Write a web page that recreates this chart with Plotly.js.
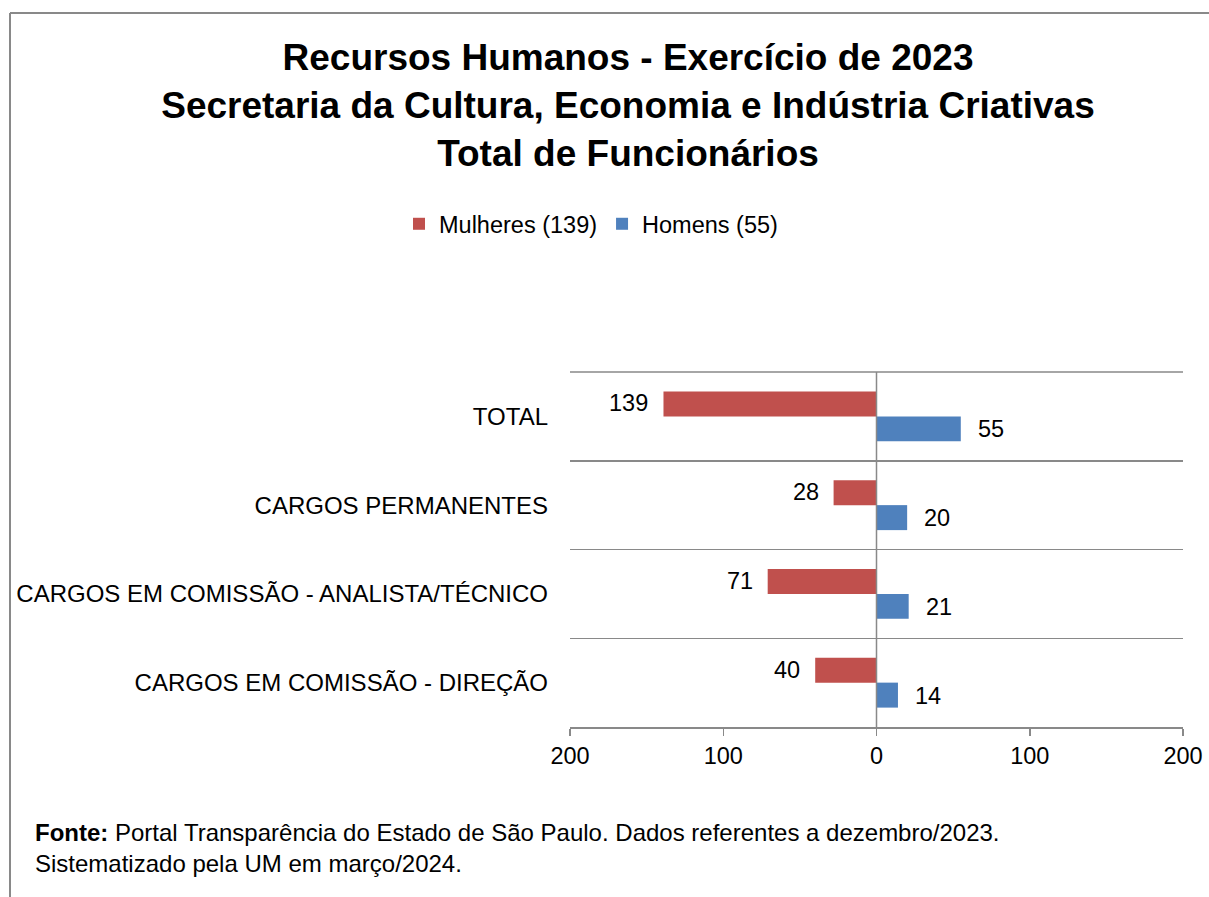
<!DOCTYPE html>
<html>
<head>
<meta charset="utf-8">
<script src="https://cdn.plot.ly/plotly-3.0.1.min.js"></script>
<style>html,body{margin:0;padding:0;background:#fff;}#chart{width:1209px;height:897px;}</style>
</head>
<body>
<div id="chart"></div>
<script>
const categories = ["TOTAL", "CARGOS PERMANENTES", "CARGOS EM COMISSÃO - ANALISTA/TÉCNICO", "CARGOS EM COMISSÃO - DIREÇÃO"];
const mulheres = [139, 28, 71, 40];
const homens = [55, 20, 21, 14];
const seriesNames = ["Mulheres (139)", "Homens (55)"];
const tickVals = [-200, -100, 0, 100, 200];
const tickLabels = ["200", "100", "0", "100", "200"];
const titleText = "<b>Recursos Humanos - Exercício de 2023<br>Secretaria da Cultura, Economia e Indústria Criativas<br>Total de Funcionários</b>";
const sourceText = "<b>Fonte:</b> Portal Transparência do Estado de São Paulo. Dados referentes a dezembro/2023.<br>Sistematizado pela UM em março/2024.";

const FONT = "Liberation Sans, Arial, sans-serif";
const RED = "#C0504D", BLUE = "#4F81BD", GRID = "#898989";

// plot area in pixels
const L = 570, R = 1183, T = 372, B = 727, W = 1209, H = 897;
const px = x => (x - L) / (R - L);
const py = y => (B - y) / (B - T);

const traces = [
  {type: "bar", orientation: "h", name: seriesNames[0], y: categories, x: mulheres.map(v => -v),
   marker: {color: RED}, hoverinfo: "skip"},
  {type: "bar", orientation: "h", name: seriesNames[1], y: categories, x: homens,
   marker: {color: BLUE}, hoverinfo: "skip"}
];

const annotations = [];
categories.forEach((c, i) => {
  annotations.push({x: -mulheres[i], y: c, xref: "x", yref: "y", text: String(mulheres[i]),
    showarrow: false, xanchor: "right", yanchor: "middle", xshift: -13, yshift: 13,
    font: {family: FONT, size: 23.5, color: "#000"}});
  annotations.push({x: homens[i], y: c, xref: "x", yref: "y", text: String(homens[i]),
    showarrow: false, xanchor: "left", yanchor: "middle", xshift: 15, yshift: -13,
    font: {family: FONT, size: 23.5, color: "#000"}});
});
annotations.push({x: px(33), y: py(817), xref: "paper", yref: "paper", text: sourceText,
  showarrow: false, xanchor: "left", yanchor: "top", align: "left",
  font: {family: FONT, size: 24, color: "#000"}});

const layout = {
  width: W, height: H,
  margin: {l: L, r: W - R, t: T, b: H - B, pad: 0},
  paper_bgcolor: "#fff", plot_bgcolor: "#fff",
  font: {family: FONT, size: 23.5, color: "#000"},
  title: {text: titleText, xref: "container", yref: "container", x: 628 / W, xanchor: "center",
    y: 1 - 70 / H, yanchor: "top", font: {family: FONT, size: 37, color: "#000"}},
  barmode: "group", bargap: 0.437, bargroupgap: 0,
  showlegend: true,
  legend: {orientation: "h", xref: "container", yref: "container", x: 591 / W, xanchor: "center",
    y: 1 - 224 / H, yanchor: "middle", font: {family: FONT, size: 23.5, color: "#000"},
    traceorder: "normal", itemwidth: 30, bgcolor: "rgba(0,0,0,0)"},
  xaxis: {range: [-200, 200], tickvals: tickVals, ticktext: tickLabels, showgrid: false,
    zeroline: true, zerolinecolor: GRID, zerolinewidth: 1.5, showline: true, linecolor: GRID, linewidth: 1.5,
    ticks: "outside", ticklen: 7, tickwidth: 1.5, tickcolor: GRID, fixedrange: true,
    tickfont: {family: FONT, size: 23.5, color: "#000"}},
  yaxis: {type: "category", categoryorder: "array", categoryarray: categories, autorange: "reversed",
    tickson: "boundaries", showgrid: true, gridcolor: GRID, gridwidth: 1.5, ticks: "", showline: false,
    zeroline: false, ticklabelstandoff: 21, fixedrange: true,
    tickfont: {family: FONT, size: 24, color: "#000"}},
  annotations: annotations,
  shapes: [
    {type: "line", xref: "paper", yref: "paper", x0: px(10), x1: px(1209), y0: py(13), y1: py(13),
     line: {color: GRID, width: 2}},
    {type: "line", xref: "paper", yref: "paper", x0: px(10), x1: px(10), y0: py(13), y1: py(897),
     line: {color: GRID, width: 2}},
    {type: "line", xref: "paper", yref: "paper", x0: 0, x1: 1, y0: 1, y1: 1,
     line: {color: GRID, width: 1.5}},
    {type: "line", xref: "x", yref: "paper", x0: 0, x1: 0, y0: 0, y1: 1, layer: "above",
     line: {color: GRID, width: 1.5}}
  ]
};

Plotly.newPlot("chart", traces, layout, {displayModeBar: false, staticPlot: true});
</script>
</body>
</html>
